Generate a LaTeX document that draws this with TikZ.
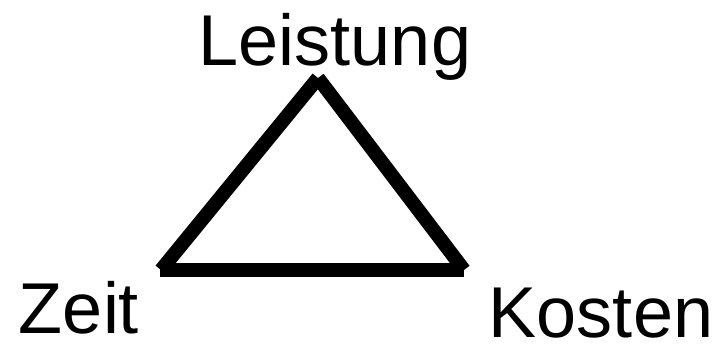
\documentclass[tikz,border=0pt]{standalone}
\usepackage{fontspec}
\setmainfont{Liberation Sans}
\usepackage{tikz}
\usetikzlibrary{positioning, calc}

\begin{document}
\begin{tikzpicture}[x=1pt, y=-1pt,
    side/.style={line width=14pt, line cap=butt},
    word/.style={anchor=base, inner sep=0pt, font=\fontsize{72}{80}\selectfont}]

    % --- Canvas ---
    \useasboundingbox (0,0) rectangle (720,343);

    % --- Corners of the triangle ---
    \coordinate (top) at (318,78);
    \coordinate (bl) at (161,270);
    \coordinate (br) at (464,270);

    % --- Sides, drawn one by one so the corners stay open ---
    \draw[side] (bl) -- (top);
    \draw[side] (top) -- (br);
    \draw[side] ($(bl)+(-1,0)$) -- (br);

    % --- Labels ---
    \node[word] (leistung) at (335,65) {Leistung};
    \node[word] (zeit) at (79,333) {Zeit};
    \node[word] (kosten) at (601,337) {Kosten};

\end{tikzpicture}
\end{document}
